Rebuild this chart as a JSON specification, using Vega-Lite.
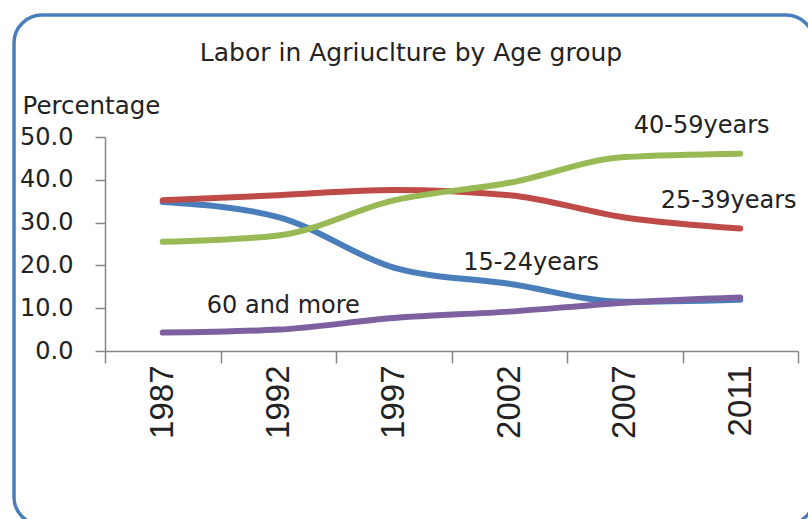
{
  "$schema": "https://vega.github.io/schema/vega-lite/v6.json",
  "width": 800,
  "height": 510,
  "autosize": {"type": "none"},
  "padding": {"left": 14, "top": 15, "right": 0, "bottom": 0},
  "background": "white",
  "config": {
    "view": {"stroke": "#4a7ebb", "strokeWidth": 3.5, "cornerRadius": 28, "fill": "white"}
  },
  "title": {
    "text": "Labor in Agriuclture by Age group",
    "font": "DejaVu Sans",
    "fontSize": 25,
    "fontWeight": "normal",
    "color": "#222222",
    "anchor": "middle",
    "frame": "group",
    "baseline": "alphabetic",
    "offset": -71,
    "dx": -3
  },
  "data": {
    "values": [
      {"year": "1987", "group": "15-24 years", "pct": 34.8},
      {"year": "1992", "group": "15-24 years", "pct": 31.3},
      {"year": "1997", "group": "15-24 years", "pct": 19.5},
      {"year": "2002", "group": "15-24 years", "pct": 15.7},
      {"year": "2007", "group": "15-24 years", "pct": 11.5},
      {"year": "2011", "group": "15-24 years", "pct": 12.0},
      {"year": "1987", "group": "25-39 years", "pct": 35.2},
      {"year": "1992", "group": "25-39 years", "pct": 36.4},
      {"year": "1997", "group": "25-39 years", "pct": 37.6},
      {"year": "2002", "group": "25-39 years", "pct": 36.4},
      {"year": "2007", "group": "25-39 years", "pct": 31.2},
      {"year": "2011", "group": "25-39 years", "pct": 28.6},
      {"year": "1987", "group": "40-59 years", "pct": 25.5},
      {"year": "1992", "group": "40-59 years", "pct": 27.0},
      {"year": "1997", "group": "40-59 years", "pct": 35.2},
      {"year": "2002", "group": "40-59 years", "pct": 39.3},
      {"year": "2007", "group": "40-59 years", "pct": 45.3},
      {"year": "2011", "group": "40-59 years", "pct": 46.1},
      {"year": "1987", "group": "60 and more", "pct": 4.3},
      {"year": "1992", "group": "60 and more", "pct": 5.0},
      {"year": "1997", "group": "60 and more", "pct": 7.7},
      {"year": "2002", "group": "60 and more", "pct": 9.2},
      {"year": "2007", "group": "60 and more", "pct": 11.3},
      {"year": "2011", "group": "60 and more", "pct": 12.5}
    ]
  },
  "encoding": {
    "x": {
      "field": "year",
      "type": "nominal",
      "scale": {"type": "band", "range": [91, 784], "paddingInner": 0, "paddingOuter": 0},
      "axis": {
        "title": null,
        "offset": -174,
        "labelAngle": -90,
        "labelFont": "Liberation Sans",
        "labelFontSize": 33,
        "labelColor": "#222222",
        "tickBand": "extent",
        "tickSize": 12,
        "tickWidth": 1.5,
        "domainWidth": 1.5,
        "labelPadding": 2,
        "domainColor": "#868686",
        "tickColor": "#868686"
      }
    },
    "y": {
      "field": "pct",
      "type": "quantitative",
      "scale": {"domain": [0, 50], "range": [336, 122], "nice": false},
      "axis": {
        "title": "Percentage",
        "titleAngle": 0,
        "titleAlign": "left",
        "titleBaseline": "alphabetic",
        "titleX": -83,
        "titleY": 98,
        "titleFont": "DejaVu Sans",
        "titleFontSize": 24.5,
        "titleFontWeight": "normal",
        "titleColor": "#222222",
        "offset": -91,
        "values": [0, 10, 20, 30, 40, 50],
        "format": ".1f",
        "labelFont": "DejaVu Sans",
        "labelFontSize": 24,
        "labelColor": "#222222",
        "labelPadding": 22,
        "tickSize": 10,
        "tickWidth": 1.5,
        "domainWidth": 1.5,
        "grid": false,
        "domainColor": "#868686",
        "tickColor": "#868686"
      }
    }
  },
  "layer": [
    {
      "mark": {"type": "line", "interpolate": "monotone", "strokeWidth": 6, "strokeCap": "round", "strokeJoin": "round"},
      "encoding": {
        "color": {
          "field": "group",
          "type": "nominal",
          "scale": {
            "domain": ["15-24 years", "25-39 years", "40-59 years", "60 and more"],
            "range": ["#4a7ebb", "#be4b48", "#98b954", "#7d60a0"]
          },
          "legend": null
        }
      }
    },
    {
      "transform": [{"filter": "datum.group == '40-59 years' && datum.year == '2007'"}],
      "mark": {"type": "text", "text": "40-59years", "align": "left", "baseline": "alphabetic", "dx": 9, "font": "DejaVu Sans", "fontSize": 24, "color": "#222222"},
      "encoding": {"x": {"datum": "2007"}, "y": {"datum": 51.0}}
    },
    {
      "transform": [{"filter": "datum.group == '25-39 years' && datum.year == '2007'"}],
      "mark": {"type": "text", "text": "25-39years", "align": "left", "baseline": "alphabetic", "dx": 36, "font": "DejaVu Sans", "fontSize": 24, "color": "#222222"},
      "encoding": {"x": {"datum": "2007"}, "y": {"datum": 33.5}}
    },
    {
      "transform": [{"filter": "datum.group == '15-24 years' && datum.year == '2002'"}],
      "mark": {"type": "text", "text": "15-24years", "align": "left", "baseline": "alphabetic", "dx": -46, "font": "DejaVu Sans", "fontSize": 24, "color": "#222222"},
      "encoding": {"x": {"datum": "2002"}, "y": {"datum": 19.0}}
    },
    {
      "transform": [{"filter": "datum.group == '60 and more' && datum.year == '1987'"}],
      "mark": {"type": "text", "text": "60 and more", "align": "left", "baseline": "alphabetic", "dx": 44, "font": "DejaVu Sans", "fontSize": 24, "color": "#222222"},
      "encoding": {"x": {"datum": "1987"}, "y": {"datum": 8.9}}
    }
  ]
}
